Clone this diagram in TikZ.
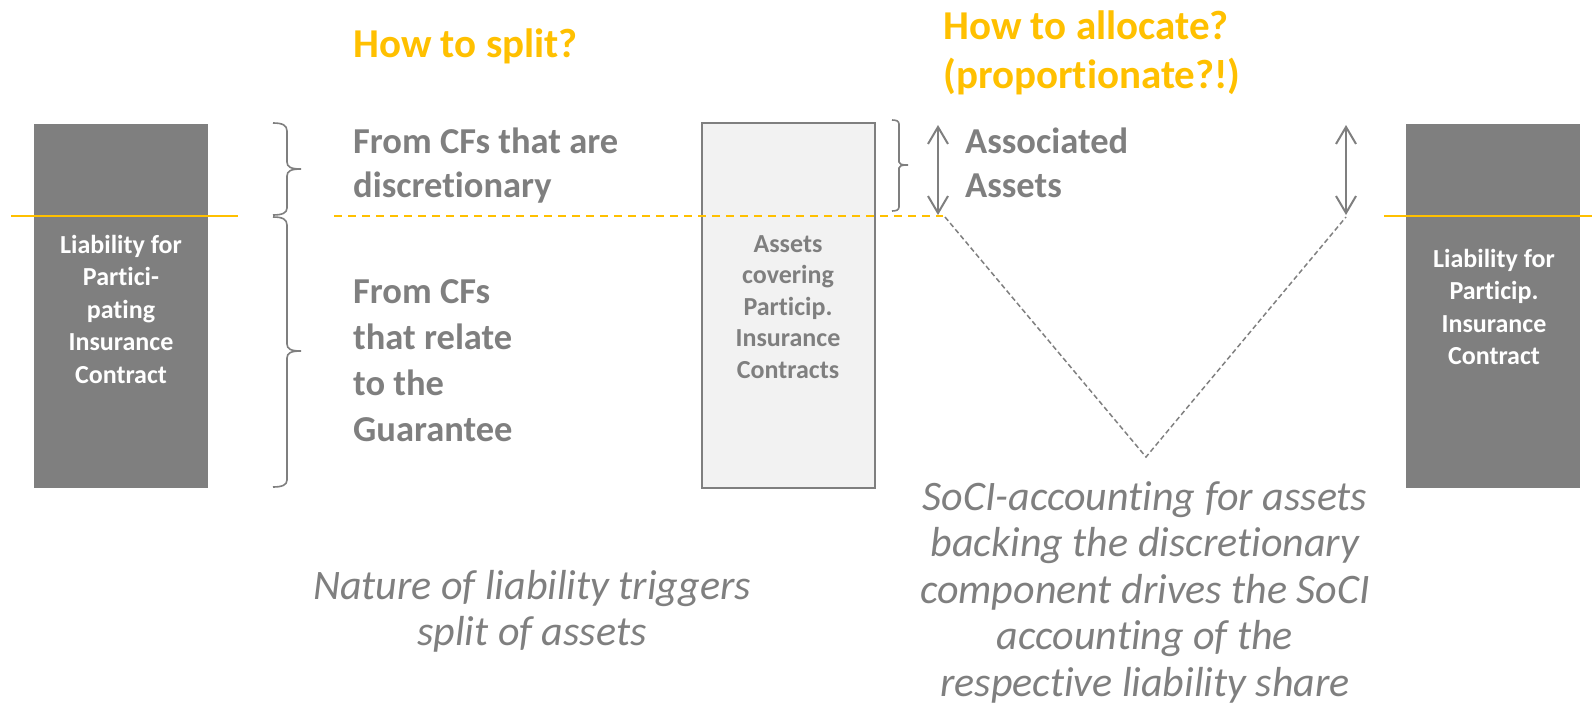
\documentclass[tikz,border=0pt]{standalone}
\usepackage{fontspec}
\setmainfont{Carlito}[Ligatures=NoCommon]
\usetikzlibrary{arrows.meta}
\definecolor{tgray}{RGB}{127,127,127}
\definecolor{torange}{RGB}{255,192,0}
\definecolor{tlight}{RGB}{242,242,242}
\newcommand{\linesl}[1]{\begin{tabular}[t]{@{}l@{}}#1\end{tabular}}
\newcommand{\linesc}[1]{\begin{tabular}[t]{@{}c@{}}#1\end{tabular}}
\begin{document}
\begin{tikzpicture}[x=1pt,y=-1pt,
  liab/.style={fill=tgray,draw=none,minimum width=174pt,minimum height=364pt,inner sep=0pt},
  assetbox/.style={fill=tlight,draw=tgray,line width=2pt,minimum width=173pt,minimum height=365pt,inner sep=0pt},
  boxtext/.style={anchor=base,inner sep=0pt,font=\fontsize{26}{32.5}\selectfont\bfseries},
  boxtextB/.style={anchor=base,inner sep=0pt,font=\fontsize{26}{31.5}\selectfont\bfseries},
  head/.style={anchor=base west,inner sep=0pt,text=torange,font=\fontsize{41}{49}\selectfont\bfseries},
  labA/.style={anchor=base west,inner sep=0pt,text=tgray,font=\fontsize{36.5}{44}\selectfont\bfseries},
  labB/.style={anchor=base west,inner sep=0pt,text=tgray,font=\fontsize{36.5}{46}\selectfont\bfseries},
  note/.style={anchor=base,inner sep=0pt,text=tgray,font=\fontsize{42}{46}\selectfont\itshape},
  noteB/.style={anchor=base,inner sep=0pt,text=tgray,font=\fontsize{42}{46.5}\selectfont\itshape},
  orline/.style={draw=torange,line width=2.5pt},
  ordash/.style={draw=torange,line width=2.5pt,dash pattern=on 8pt off 6pt},
  graydash/.style={draw=tgray,line width=1.5pt,dash pattern=on 5pt off 3pt},
  brc/.style={draw=tgray,line width=1.6pt},
  dbl/.style={draw=tgray,line width=2pt,{Straight Barb[length=17pt,width=20pt]}-{Straight Barb[length=17pt,width=20pt]}}
]
\path[use as bounding box] (0,0) rectangle (1592,718);

% boxes
\node[liab] (L1) at (121,306) {};
\node[assetbox] (A) at (788.5,305.5) {};
\node[liab] (L2) at (1493,306) {};

% box texts
\node[boxtext,text=white] (L1t) at (121,253) {\linesc{Liability for\\Partici-\\pating\\Insurance\\Contract}};
\node[boxtextB,text=tgray] (At) at (788,252) {\linesc{Assets\\covering\\Particip.\\Insurance\\Contracts}};
\node[boxtext,text=white] (L2t) at (1494,267) {\linesc{Liability for\\Particip.\\Insurance\\Contract}};

% orange lines
\coordinate (o1a) at (11,216);   \coordinate (o1b) at (238,216);
\coordinate (o2a) at (334,216);  \coordinate (o2b) at (943,216);
\coordinate (o3a) at (1384,216); \coordinate (o3b) at (1592,216);
\draw[orline] (o1a) -- (o1b);
\draw[ordash] (o2a) -- (o2b);
\draw[orline] (o3a) -- (o3b);

% dashed V
\coordinate (vl) at (945,217);
\coordinate (vb) at (1146,457);
\coordinate (vr) at (1346,217);
\draw[graydash] (vl) -- (vb) -- (vr);

% double arrows
\coordinate (a1t) at (938,125); \coordinate (a1b) at (938,215);
\coordinate (a2t) at (1346,125); \coordinate (a2b) at (1346,215);
\draw[dbl] (a1t) -- (a1b);
\draw[dbl] (a2t) -- (a2b);

% braces
\draw[brc] (273,123) .. controls (282,123) and (287,125) .. (287,131) -- (287,162)
  .. controls (287,167) and (291,169) .. (301,169) .. controls (291,169) and (287,171) .. (287,176)
  -- (287,208) .. controls (287,213) and (282,215) .. (273,215);
\draw[brc] (273,217) .. controls (282,217) and (287,219) .. (287,225) -- (287,344)
  .. controls (287,349) and (291,351) .. (301,351) .. controls (291,351) and (287,353) .. (287,358)
  -- (287,480) .. controls (287,485) and (282,487) .. (273,487);
\draw[brc] (892,120) .. controls (896,120) and (899,121) .. (899,124) -- (899,162)
  .. controls (899,164) and (901,165) .. (908,165) .. controls (901,165) and (899,166) .. (899,168)
  -- (899,207) .. controls (899,210) and (896,211) .. (892,211);

% texts
\node[head] (hsplit) at (353,57) {How to split?};
\node[head] (halloc) at (943,39) {\linesl{How to allocate?\\(proportionate?!)}};
\node[labA] (cfdisc) at (353,153) {\linesl{From CFs that are\\discretionary}};
\node[labB] (cfguar) at (353,303) {\linesl{From CFs\\that relate\\to the\\Guarantee}};
\node[labA] (assoc) at (965,153) {\linesl{Associated\\Assets}};
\node[note] (note1) at (532,599) {\linesc{Nature of liability triggers\\split of assets}};
\node[noteB] (note2) at (1145,510) {\linesc{SoCI-accounting for assets\\backing the discretionary\\component drives the SoCI\\accounting of the\\respective liability share}};
\end{tikzpicture}
\end{document}
